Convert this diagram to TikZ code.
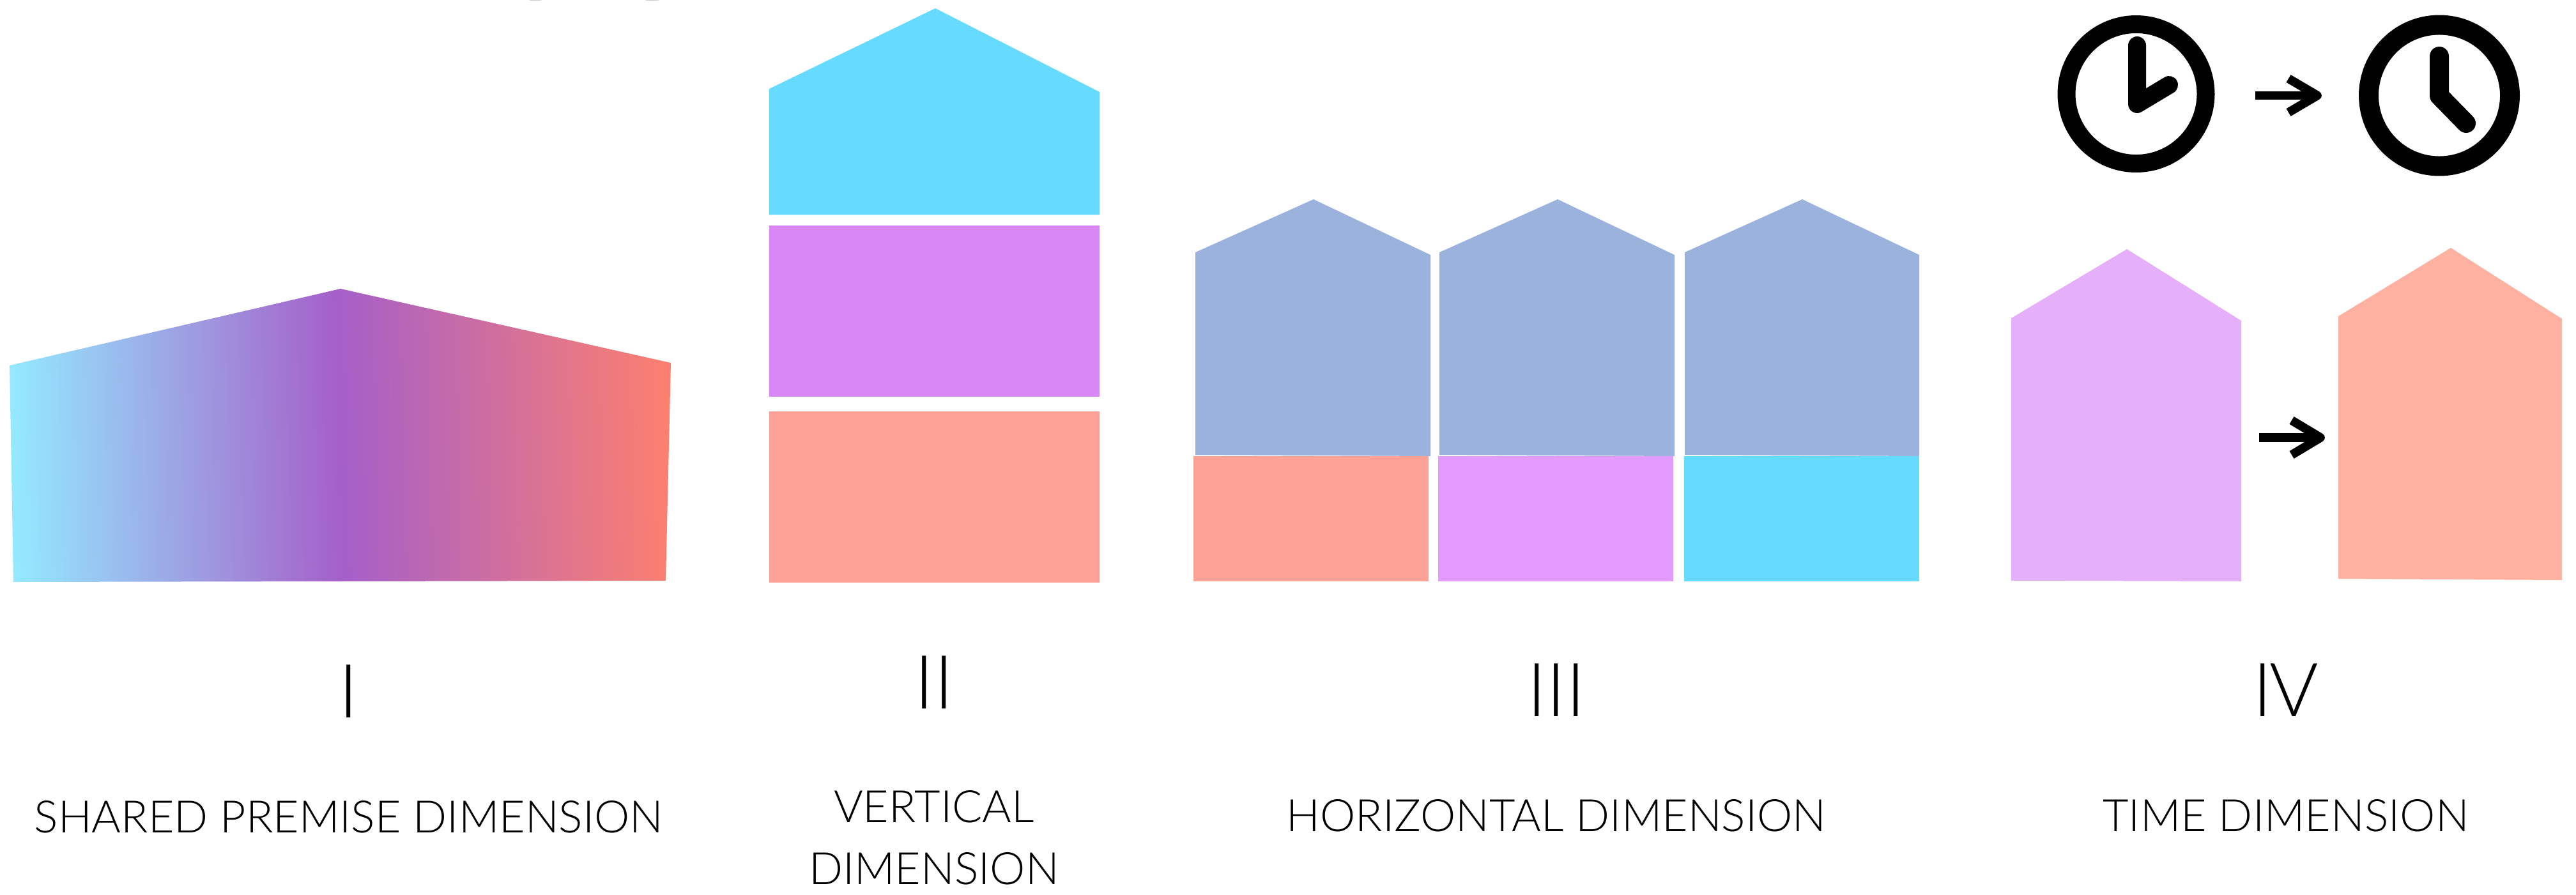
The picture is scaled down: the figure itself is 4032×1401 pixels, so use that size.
\documentclass[tikz,border=0pt]{standalone}
\usepackage{fontspec}
\setmainfont{Lato}[UprightFont=* Light]
\definecolor{hcyan}{HTML}{66DBFF}
\definecolor{hviolet}{HTML}{D987F6}
\definecolor{hcoral}{HTML}{FEA197}
\definecolor{hblue}{HTML}{9BB3DC}
\definecolor{hlilac}{HTML}{E39BFF}
\definecolor{hpale}{HTML}{E5B0F9}
\definecolor{hpeach}{HTML}{FEB1A0}
\definecolor{gradL}{HTML}{94E8FF}
\definecolor{gradM}{HTML}{A55FC9}
\definecolor{gradR}{HTML}{FC7F70}
\tikzset{
  numeral/.style={anchor=base,inner sep=0pt,font=\fontsize{83}{83}\selectfont},
  caption/.style={anchor=base,inner sep=0pt,align=center,font=\fontsize{49.7}{68.3}\selectfont},
  ring/.style={draw=black},
  hand/.style={draw=black,line cap=round,line join=round},
  arrowline/.style={draw=black,line width=9.8pt,line join=round},
}
\begin{document}
\begin{tikzpicture}[x=0.025cm,y=-0.025cm]
\useasboundingbox (0,0) rectangle (4032,1401);
% faint clipped remnants on the top edge
\fill[gray!35] (838,0) ellipse [x radius=10,y radius=1.5];
\fill[gray!35] (1021,0) ellipse [x radius=11,y radius=1.5];
% I
\shade[left color=gradL,right color=gradR,middle color=gradM,shading angle=91.5]
  (15,572) -- (533,452) -- (1050,568) -- (1042,909) -- (21,911) -- cycle;
% II
\fill[hcyan] (1204,139) -- (1464,13) -- (1721,144) -- (1721,336) -- (1204,336) -- cycle;
\fill[hviolet] (1204,353) rectangle (1721,621);
\fill[hcoral] (1204,644) rectangle (1721,912);
% III
\fill[hblue] (1871,395) -- (2056,312) -- (2239,399) -- (2239,714) -- (1871,712) -- cycle;
\fill[hblue] (2253,395) -- (2438,312) -- (2621,399) -- (2621,714) -- (2253,712) -- cycle;
\fill[hblue] (2637,395) -- (2821,312) -- (3004,399) -- (3004,714) -- (2637,712) -- cycle;
\fill[hcoral] (1868,714) rectangle (2236,910);
\fill[hlilac] (2251,714) rectangle (2619,910);
\fill[hcyan] (2636,714) rectangle (3004,910);
% IV
\fill[hpale] (3148,498) -- (3329,390) -- (3508,502) -- (3508,910) -- (3148,909) -- cycle;
\fill[hpeach] (3660,495) -- (3836,388) -- (4010,499) -- (4010,908) -- (3660,906) -- cycle;
% arrow between the houses
\coordinate (lowS) at (3536,685);
\coordinate (lowT) at (3632,685);
\coordinate (lowA) at (3587,658);
\coordinate (lowB) at (3587,712);
\draw[arrowline] (lowS) -- (lowT);
\draw[arrowline] (lowA) -- (lowT) -- (lowB);
% clocks
\coordinate (clockA) at (3343.5,147);
\coordinate (clockB) at (3818,149.5);
\draw[ring,line width=19.9pt] (clockA) circle [radius=109];
\draw[hand,line width=19.9pt] (3345,71) -- (3345,163) -- (3395,133);
\draw[ring,line width=22pt] (clockB) circle [radius=110.5];
\draw[hand,line width=21.3pt] (3818,88) -- (3818,150) -- (3860,193);
% arrow between the clocks
\coordinate (topS) at (3530,149.5);
\coordinate (topT) at (3627,149.5);
\coordinate (topA) at (3582,123);
\coordinate (topB) at (3582,176);
\draw[arrowline] (topS) -- (topT);
\draw[arrowline] (topA) -- (topT) -- (topB);
% labels
\node[numeral] (nI) at (546,1123) {I};
\node[numeral] (nII) at (1462,1109) {II};
\node[numeral] (nIII) at (2436,1121) {III};
\node[numeral] (nIV) at (3578,1121) {I\kern-3pt V};
\node[caption] (capI) at (546,1303) {SHARED PREMISE DIMENSION};
\node[caption] (capII) at (1462,1384) {VERTICAL\\DIMENSION};
\node[caption] (capIII) at (2436,1301) {HORIZONTAL DIMENSION};
\node[caption] (capIV) at (3578,1301) {TIME DIMENSION};
\end{tikzpicture}
\end{document}
